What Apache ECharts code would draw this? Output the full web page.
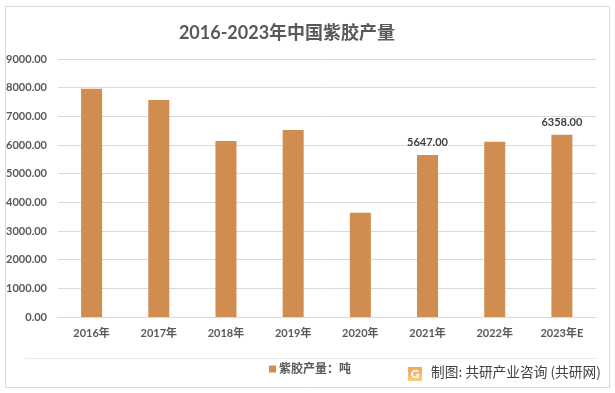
<!DOCTYPE html>
<html>
<head>
<meta charset="utf-8">
<style>
html, body { margin: 0; padding: 0; background: #fff; }
#main { width: 615px; height: 393px; }
</style>
<script src="https://cdn.jsdelivr.net/npm/echarts@6/dist/echarts.min.js"></script>
</head>
<body>
<div id="main"></div>
<script>
var categories = ['2016年', '2017年', '2018年', '2019年', '2020年', '2021年', '2022年', '2023年E']
var output = [7960, 7570, 6140, 6520, 3640, 5647, 6110, 6358]
var labelled = ['2021年', '2023年E']
var seriesName = '紫胶产量：吨'
var titleText = '2016-2023年中国紫胶产量'
var sourceText = '制图: 共研产业咨询 (共研网)'

var font = 'Lato, "Noto Sans CJK SC", sans-serif'
var chart = echarts.init(document.getElementById('main'), null, { renderer: 'canvas' })

chart.setOption({
    animation: false,
    backgroundColor: '#fff',
    textStyle: { fontFamily: font },
    title: {
        text: titleText,
        left: 282,
        top: 19,
        textAlign: 'center',
        textStyle: { fontFamily: font, fontSize: 18, fontWeight: 'bold', color: '#595959' }
    },
    grid: { left: 58, right: 19.5, top: 59, bottom: 76 },
    legend: {
        left: 264,
        top: 358,
        itemWidth: 7,
        itemHeight: 7,
        itemGap: 4,
        data: [{ name: seriesName, icon: 'rect' }],
        textStyle: { fontFamily: font, fontSize: 12, fontWeight: 'bold', color: '#595959', padding: [0, 0, 0, -2] }
    },
    xAxis: {
        type: 'category',
        data: categories,
        axisTick: { show: false },
        axisLine: { lineStyle: { color: '#d9d9d9', width: 1 } },
        axisLabel: { fontFamily: font, fontSize: 11, fontWeight: 'bold', color: '#595959', margin: 11 }
    },
    yAxis: {
        type: 'value',
        min: 0,
        max: 9000,
        interval: 1000,
        axisLine: { show: false },
        axisTick: { show: false },
        splitLine: { lineStyle: { color: '#d9d9d9', width: 1 } },
        axisLabel: {
            fontFamily: font, fontSize: 11, fontWeight: 'bold', color: '#595959', margin: 11,
            formatter: function (v) { return v.toFixed(2) }
        }
    },
    series: [{
        name: seriesName,
        type: 'bar',
        barWidth: 21,
        data: output,
        itemStyle: { color: '#d18c4f' },
        label: {
            show: true,
            position: 'top',
            distance: 7,
            fontFamily: font,
            fontSize: 11,
            fontWeight: 'bold',
            color: '#404040',
            formatter: function (p) {
                return labelled.indexOf(p.name) >= 0 ? p.value.toFixed(2) : ''
            }
        }
    }],
    graphic: [
        { type: 'rect', shape: { x: 5.5, y: 6.5, width: 604, height: 381 }, style: { fill: 'none', stroke: '#d9d9d9', lineWidth: 1 }, silent: true },
        { type: 'line', shape: { x1: 25, y1: 358.5, x2: 598, y2: 358.5 }, style: { stroke: '#ebebeb', lineWidth: 1 }, silent: true },
        {
            type: 'rect',
            shape: { x: 408, y: 367, width: 14, height: 14 },
            style: {
                fill: new echarts.graphic.LinearGradient(0, 0, 0, 1, [
                    { offset: 0, color: '#f3a45c' },
                    { offset: 1, color: '#f7cf80' }
                ])
            },
            silent: true
        },
        {
            type: 'text', x: 415, y: 374,
            style: { text: 'G', fill: '#fff', font: 'bold 12px ' + font, textAlign: 'center', textVerticalAlign: 'middle' },
            silent: true
        },
        {
            type: 'text', x: 431, y: 372,
            style: { text: sourceText, fill: '#404040', font: '13.7px "Noto Sans CJK SC", sans-serif', textVerticalAlign: 'middle' },
            silent: true
        }
    ]
})
</script>
</body>
</html>
